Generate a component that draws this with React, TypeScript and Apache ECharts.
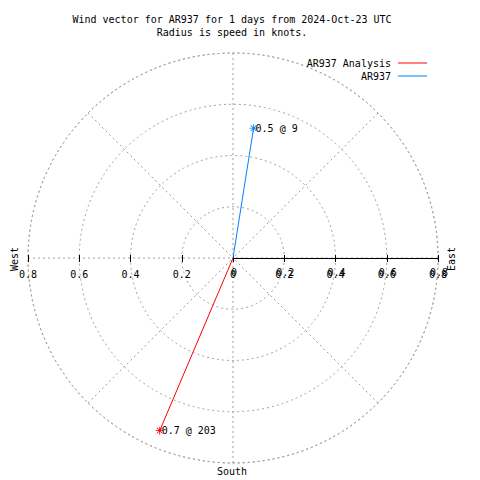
import React, { useEffect, useRef } from "react";
import * as echarts from "echarts";

const seriesNames = ["AR937 Analysis", "AR937"];
const speeds = [0.732, 0.513];
const directions = [203, 9];
const radiusTicks = [0, 0.2, 0.4, 0.6, 0.8];
const compassLabels = ["West", "East", "South"];
const titleLines = ["Wind vector for AR937 for 1 days from 2024-Oct-23 UTC", "Radius is speed in knots."];

const FONT = "DejaVu Sans Mono";
const GRID = "#a0a0a0";
const STAR =
  "path://M4.5,0h1v10h-1z M0,4.5h10v1h-10z M1.1,1.8L1.8,1.1L8.9,8.2L8.2,8.9z M8.2,1.1L8.9,1.8L1.8,8.9L1.1,8.2z";

const rMax = radiusTicks[radiusTicks.length - 1];
const rStep = radiusTicks[1] - radiusTicks[0];
const fmt = (v: number) => (Math.abs(v) < 1e-9 ? "0" : Math.abs(v).toFixed(1));

export default function App() {
  const ref = useRef<HTMLDivElement>(null);
  useEffect(() => {
    if (!ref.current) return;
    const chart = echarts.init(ref.current, undefined, { renderer: "svg" });
    const colors = ["#ff0000", "#0080ff"];
    const labelStyle = { fontFamily: FONT, fontSize: 10, color: "#000" };
    chart.setOption({
      animation: false,
      title: {
        text: titleLines.join("\n"),
        left: 232,
        top: 13,
        padding: 0,
        textAlign: "center",
        textStyle: { fontFamily: FONT, fontSize: 10, fontWeight: "normal", color: "#000", lineHeight: 13 },
      },
      legend: {
        orient: "vertical",
        right: 53,
        top: 57,
        padding: 0,
        align: "right",
        icon: "rect",
        itemWidth: 29,
        itemHeight: 1,
        itemGap: 1,
        selectedMode: false,
        textStyle: { ...labelStyle, lineHeight: 12, padding: [0, 2, 0, 0] },
        data: seriesNames,
      },
      polar: { center: [233, 258], radius: 205 },
      angleAxis: {
        type: "value",
        min: 0,
        max: 360,
        interval: 45,
        startAngle: 90,
        clockwise: true,
        axisLine: { show: true, lineStyle: { color: GRID, type: [2, 3], width: 1 } },
        axisTick: { show: false },
        axisLabel: { show: false },
        splitLine: { show: true, lineStyle: { color: GRID, type: [2, 3], width: 1 } },
      },
      radiusAxis: {
        type: "value",
        min: 0,
        max: rMax,
        interval: rStep,
        axisLine: { show: false },
        axisTick: { show: false },
        axisLabel: { show: false },
        splitLine: { show: true, lineStyle: { color: GRID, type: [2, 3], width: 1 } },
      },
      grid: [
        { left: 28, width: 205, top: 100, height: 158 },
        { left: 233, width: 205, top: 100, height: 158 },
      ],
      xAxis: [
        {
          gridIndex: 0, type: "value", min: -rMax, max: 0, interval: rStep, position: "bottom",
          axisLine: { show: false },
          axisTick: { show: true, length: 4, lineStyle: { color: "#000" } },
          axisLabel: { ...labelStyle, margin: 11, showMaxLabel: false, formatter: fmt },
          splitLine: { show: false },
        },
        {
          gridIndex: 0, type: "value", min: -rMax, max: 0, interval: rStep, position: "bottom",
          axisLine: { show: false },
          axisTick: { show: true, inside: true, length: 3, lineStyle: { color: "#000" } },
          axisLabel: { show: false },
          splitLine: { show: false },
        },
        {
          gridIndex: 1, type: "value", min: 0, max: rMax, interval: rStep, position: "bottom",
          axisLine: { show: true, lineStyle: { color: "#000", width: 1 } },
          axisTick: { show: true, length: 4, lineStyle: { color: "#000" } },
          axisLabel: { ...labelStyle, margin: 11, formatter: fmt },
          splitLine: { show: false },
        },
        {
          gridIndex: 1, type: "value", min: 0, max: rMax, interval: rStep, position: "bottom",
          axisLine: { show: false },
          axisTick: { show: true, inside: true, length: 3, lineStyle: { color: "#000" } },
          axisLabel: { ...labelStyle, margin: 9, padding: [0, 0, 0, 2], formatter: fmt },
          splitLine: { show: false },
        },
      ],
      yAxis: [
        { gridIndex: 0, type: "value", show: false, min: 0, max: 1 },
        { gridIndex: 1, type: "value", show: false, min: 0, max: 1 },
      ],
      series: seriesNames.map((name, i) => ({
        name,
        type: "line",
        coordinateSystem: "polar",
        color: colors[i],
        lineStyle: { width: 1, color: colors[i] },
        itemStyle: { color: colors[i] },
        z: 5,
        data: [
          { value: [0, directions[i]], symbol: "none" },
          {
            value: [speeds[i], directions[i]],
            symbol: STAR,
            symbolSize: 8,
            label: {
              show: true,
              position: "right",
              distance: -2,
              ...labelStyle,
              formatter: () => `${speeds[i].toFixed(1)} @ ${directions[i]}`,
            },
          },
        ],
      })),
      graphic: [
        {
          type: "text", x: 14, y: 259, rotation: Math.PI / 2,
          style: { text: compassLabels[0], font: `10px '${FONT}'`, fill: "#000", textAlign: "center", textVerticalAlign: "middle" },
        },
        {
          type: "text", x: 451, y: 259, rotation: Math.PI / 2,
          style: { text: compassLabels[1], font: `10px '${FONT}'`, fill: "#000", textAlign: "center", textVerticalAlign: "middle" },
        },
        {
          type: "text", x: 232, y: 471,
          style: { text: compassLabels[2], font: `10px '${FONT}'`, fill: "#000", textAlign: "center", textVerticalAlign: "middle" },
        },
      ],
    });
    return () => chart.dispose();
  }, []);
  return <div ref={ref} style={{ position: "fixed", left: 0, top: 0, width: 480, height: 480, background: "#fff" }} />;
}
